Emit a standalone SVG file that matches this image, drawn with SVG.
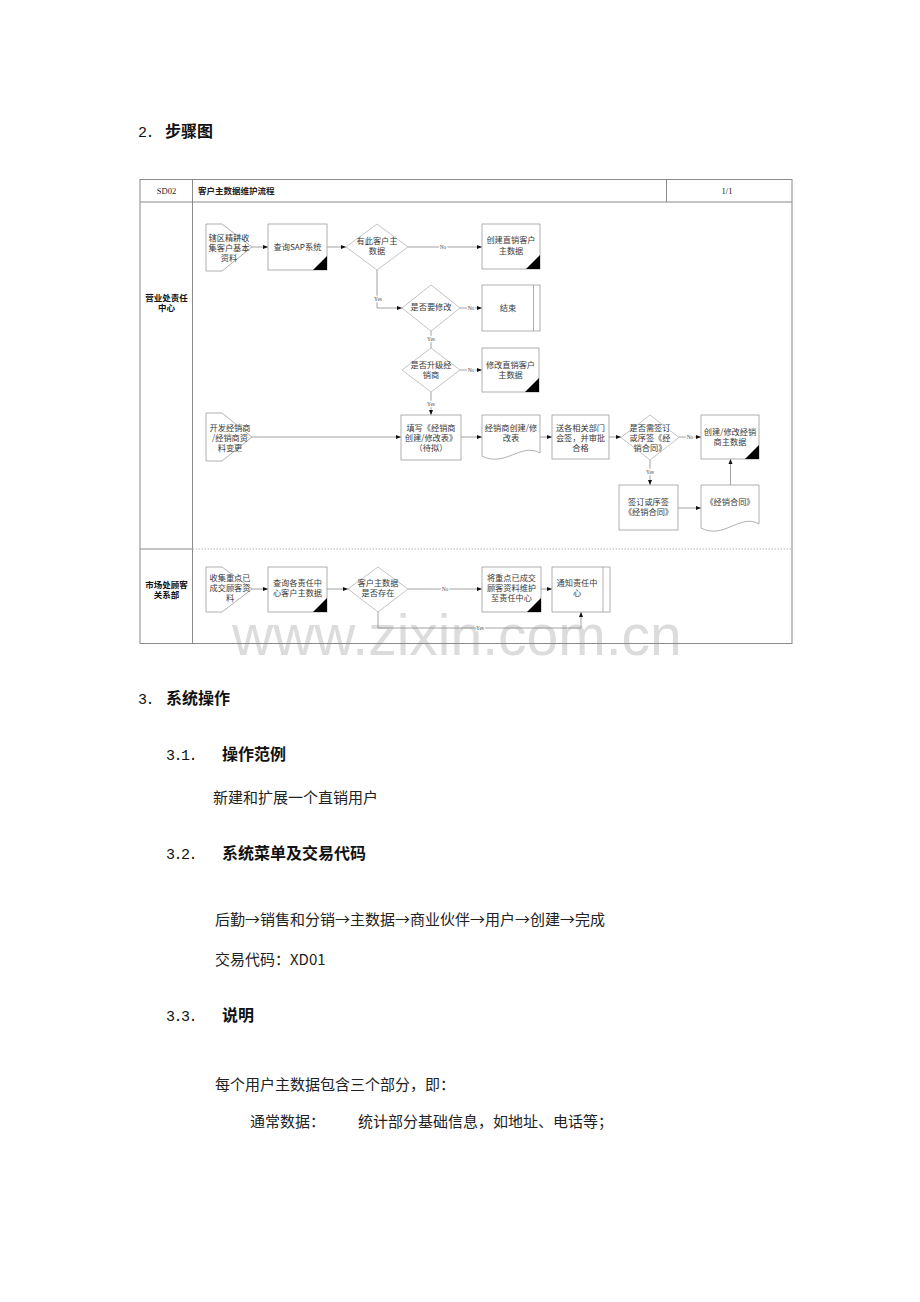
<svg xmlns="http://www.w3.org/2000/svg" width="920" height="1302" viewBox="0 0 920 1302">
<defs>
<style>
.frame{fill:none;stroke:#8a8a8a;stroke-width:1}
.dash{fill:none;stroke:#b5b5b5;stroke-width:1;stroke-dasharray:1.5 1.5}
.box{fill:#fff;stroke:#9c9c9c;stroke-width:0.8}
.dia{fill:#fff;stroke:#b4b4b4;stroke-width:0.8}
.con{fill:none;stroke:#8c8c8c;stroke-width:0.8}
.corner{fill:#000}
.t{font-family:"Noto Sans CJK SC",sans-serif;font-size:8.2px;fill:#3a3a3a;text-anchor:middle}
.lane{font-family:"Noto Sans CJK SC",sans-serif;font-size:8.5px;font-weight:bold;fill:#111;text-anchor:middle}
.hd{font-family:"Liberation Serif","Noto Sans CJK SC",serif;font-size:8.5px;fill:#222}
.lb{font-family:"Liberation Serif",serif;font-size:5.5px;fill:#555;text-anchor:middle;stroke:#fff;stroke-width:2.5;paint-order:stroke}
.h1{font-family:"Liberation Sans","Noto Sans CJK SC",sans-serif;font-size:16px;font-weight:bold;fill:#111}
.num{font-family:"Liberation Mono",monospace;font-size:15px;letter-spacing:-1.5px;fill:#111}
.body{font-family:"Noto Sans CJK SC",sans-serif;font-size:15px;fill:#222}
.wm{font-family:"Liberation Sans",sans-serif;font-size:57px;fill:#dcdcdc}
</style>
<marker id="ah" viewBox="0 0 10 10" refX="10" refY="5" markerWidth="5" markerHeight="5" markerUnits="userSpaceOnUse" orient="auto">
<path d="M0,1 L10,5 L0,9 Z" fill="#111"/>
</marker>
</defs>
<rect width="920" height="1302" fill="#fff"/>

<g id="watermark"><text class="wm" x="232" y="655">www.zixin.com.cn</text></g>

<g id="page-text">
<text class="num" x="138" y="137">2.</text><text class="h1" x="165" y="137">步骤图</text>
<text class="num" x="138" y="704">3.</text><text class="h1" x="166" y="704">系统操作</text>
<text class="num" x="166" y="760">3.1.</text><text class="h1" x="222" y="760">操作范例</text>
<text class="body" x="213" y="803">新建和扩展一个直销用户</text>
<text class="num" x="166" y="859">3.2.</text><text class="h1" x="222" y="859">系统菜单及交易代码</text>
<text class="body" x="215" y="925">后勤→销售和分销→主数据→商业伙伴→用户→创建→完成</text>
<text class="body" x="215" y="965">交易代码：XD01</text>
<text class="num" x="166" y="1021">3.3.</text><text class="h1" x="222" y="1021">说明</text>
<text class="body" x="215" y="1090">每个用户主数据包含三个部分，即：</text>
<text class="body" x="250" y="1127">通常数据：</text>
<text class="body" x="358" y="1127">统计部分基础信息，如地址、电话等；</text>
</g>

<g id="frame">
<rect class="frame" x="140" y="179.5" width="652" height="464"/>
<line class="frame" x1="140" y1="202" x2="792" y2="202"/>
<line class="frame" x1="192.5" y1="179.5" x2="192.5" y2="643.5"/>
<line class="frame" x1="666.5" y1="179.5" x2="666.5" y2="202"/>
<line class="frame" x1="140" y1="549" x2="192.5" y2="549"/>
<line class="dash" x1="192.5" y1="549" x2="792" y2="549"/>
<text class="hd" x="166.5" y="193.5" text-anchor="middle">SD02</text>
<text class="hd" x="198" y="193.5" font-weight="bold" font-family="Noto Sans CJK SC, sans-serif" font-size="8px">客户主数据维护流程</text>
<text class="hd" x="727" y="193.5" text-anchor="middle">1/1</text>
<text class="lane" x="166.5" y="301">营业处责任</text>
<text class="lane" x="166.5" y="311">中心</text>
<text class="lane" x="166.5" y="588">市场处顾客</text>
<text class="lane" x="166.5" y="598">关系部</text>
</g>

<g id="connectors">
<line class="con" x1="252" y1="247" x2="268" y2="247" marker-end="url(#ah)"/>
<line class="con" x1="327" y1="247" x2="346" y2="247" marker-end="url(#ah)"/>
<line class="con" x1="408" y1="247" x2="482" y2="247" marker-end="url(#ah)"/>
<polyline class="con" points="377,270 377,308 402,308" marker-end="url(#ah)"/>
<line class="con" x1="460" y1="308" x2="482" y2="308" marker-end="url(#ah)"/>
<line class="con" x1="431" y1="331" x2="431" y2="348"/>
<line class="con" x1="460" y1="370" x2="482" y2="370" marker-end="url(#ah)"/>
<line class="con" x1="431" y1="392" x2="431" y2="415" marker-end="url(#ah)"/>
<line class="con" x1="252" y1="437" x2="401" y2="437" marker-end="url(#ah)"/>
<line class="con" x1="461" y1="437" x2="482" y2="437" marker-end="url(#ah)"/>
<line class="con" x1="540" y1="437" x2="552" y2="437" marker-end="url(#ah)"/>
<line class="con" x1="609" y1="437" x2="621" y2="437" marker-end="url(#ah)"/>
<line class="con" x1="679" y1="437" x2="701" y2="437" marker-end="url(#ah)"/>
<line class="con" x1="650" y1="460" x2="650" y2="485" marker-end="url(#ah)"/>
<line class="con" x1="678" y1="508" x2="701" y2="508" marker-end="url(#ah)"/>
<line class="con" x1="730.5" y1="485" x2="730.5" y2="459" marker-end="url(#ah)"/>
<line class="con" x1="252" y1="589" x2="268" y2="589" marker-end="url(#ah)"/>
<line class="con" x1="327" y1="589" x2="348" y2="589" marker-end="url(#ah)"/>
<line class="con" x1="408" y1="589" x2="482" y2="589" marker-end="url(#ah)"/>
<line class="con" x1="541" y1="589" x2="552" y2="589" marker-end="url(#ah)"/>
<polyline class="con" points="378,612 378,628 581,628 581,612" marker-end="url(#ah)"/>
<text class="lb" x="443" y="249">No</text>
<text class="lb" x="378" y="301">Yes</text>
<text class="lb" x="471" y="310">No</text>
<text class="lb" x="431" y="341">Yes</text>
<text class="lb" x="471" y="372">No</text>
<text class="lb" x="431" y="406">Yes</text>
<text class="lb" x="690" y="439">No</text>
<text class="lb" x="650" y="474">Yes</text>
<text class="lb" x="445" y="591">No</text>
<text class="lb" x="480" y="630">Yes</text>
</g>

<g id="n1"><polygon class="box" points="206,224 222,224 252,247 222,271 206,271"/>
<text class="t" x="229" y="241">辖区精耕收</text><text class="t" x="229" y="251">集客户基本</text><text class="t" x="229" y="261">资料</text></g>
<g id="n2"><rect class="box" x="268" y="224" width="59" height="46"/><polygon class="corner" points="313,270 327,270 327,256"/>
<text class="t" x="297.5" y="250">查询SAP系统</text></g>
<g id="n3"><polygon class="dia" points="346,247 377,224 408,247 377,270"/>
<text class="t" x="377" y="244">有此客户主</text><text class="t" x="377" y="254">数据</text></g>
<g id="n4"><rect class="box" x="482" y="224" width="58" height="45"/><polygon class="corner" points="526,269 540,269 540,255"/>
<text class="t" x="511" y="243">创建直销客户</text><text class="t" x="511" y="254">主数据</text></g>
<g id="n5"><polygon class="dia" points="402,308 431,285 460,308 431,331"/>
<text class="t" x="431" y="310">是否要修改</text></g>
<g id="n6"><rect class="box" x="482" y="285" width="58" height="46"/><line class="box" x1="533.5" y1="285" x2="533.5" y2="331"/>
<text class="t" x="508" y="311">结束</text></g>
<g id="n7"><polygon class="dia" points="402,370 431,348 460,370 431,392"/>
<text class="t" x="431" y="368">是否升级经</text><text class="t" x="431" y="378">销商</text></g>
<g id="n8"><rect class="box" x="482" y="348" width="57" height="44"/><polygon class="corner" points="525,392 539,392 539,378"/>
<text class="t" x="510.5" y="368">修改直销客户</text><text class="t" x="510.5" y="378">主数据</text></g>
<g id="n9"><polygon class="box" points="206,413 222,413 252,437 222,461 206,461"/>
<text class="t" x="230" y="431">开发经销商</text><text class="t" x="230" y="441">/经销商资</text><text class="t" x="230" y="451">料变更</text></g>
<g id="n10"><rect class="box" x="401" y="415" width="60" height="45"/>
<text class="t" x="431" y="431">填写《经销商</text><text class="t" x="431" y="441">创建/修改表》</text><text class="t" x="431" y="451">（待拟）</text></g>
<g id="n11"><path class="box" d="M482,415 H540 V453 C521,442 505,468 482,456 Z"/>
<text class="t" x="511" y="431">经销商创建/修</text><text class="t" x="511" y="441">改表</text></g>
<g id="n12"><rect class="box" x="552" y="415" width="57" height="44"/>
<text class="t" x="580.5" y="431">送各相关部门</text><text class="t" x="580.5" y="441">会签，并审批</text><text class="t" x="580.5" y="451">合格</text></g>
<g id="n13"><polygon class="dia" points="621,437.5 650,415 679,437.5 650,460"/>
<text class="t" x="650" y="431">是否需签订</text><text class="t" x="650" y="441">或序签《经</text><text class="t" x="650" y="451">销合同》</text></g>
<g id="n14"><rect class="box" x="701" y="415" width="58" height="44"/><polygon class="corner" points="745,459 759,459 759,445"/>
<text class="t" x="730" y="435">创建/修改经销</text><text class="t" x="730" y="445">商主数据</text></g>
<g id="n15"><rect class="box" x="619" y="485" width="59" height="45"/>
<text class="t" x="648.5" y="505">签订或序签</text><text class="t" x="648.5" y="515">《经销合同》</text></g>
<g id="n16"><path class="box" d="M701,485 H759 V524 C740,513 724,540 701,528 Z"/>
<text class="t" x="730" y="505">《经销合同》</text></g>
<g id="n17"><polygon class="box" points="206,567 222,567 252,589 222,612 206,612"/>
<text class="t" x="230" y="581">收集重点已</text><text class="t" x="230" y="591">成交顾客资</text><text class="t" x="230" y="601">料</text></g>
<g id="n18"><rect class="box" x="268" y="567" width="59" height="45"/><polygon class="corner" points="313,612 327,612 327,598"/>
<text class="t" x="297.5" y="586">查询各责任中</text><text class="t" x="297.5" y="596">心客户主数据</text></g>
<g id="n19"><polygon class="dia" points="348,589 378,567 408,589 378,612"/>
<text class="t" x="378" y="586">客户主数据</text><text class="t" x="378" y="596">是否存在</text></g>
<g id="n20"><rect class="box" x="482" y="567" width="59" height="45"/><polygon class="corner" points="527,612 541,612 541,598"/>
<text class="t" x="511.5" y="581">将重点已成交</text><text class="t" x="511.5" y="591">顾客资料维护</text><text class="t" x="511.5" y="601">至责任中心</text></g>
<g id="n21"><rect class="box" x="552" y="567" width="58" height="45"/><line class="box" x1="603" y1="567" x2="603" y2="612"/>
<text class="t" x="577" y="586">通知责任中</text><text class="t" x="577" y="596">心</text></g>
</svg>
